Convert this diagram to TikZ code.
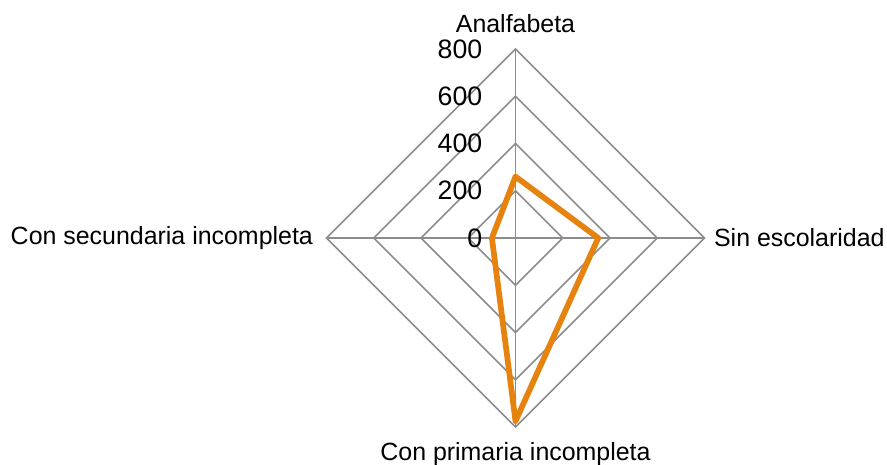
\documentclass[tikz,border=0pt]{standalone}
\usepackage{fontspec}
\setmainfont{Liberation Sans}
\usetikzlibrary{positioning}

\definecolor{gridgray}{HTML}{8C8C8C}
\definecolor{seriesorange}{HTML}{E6820E}

\begin{document}
\begin{tikzpicture}[x=0.75pt,y=0.75pt,
    grid/.style={draw=gridgray, line width=1.1pt},
    series/.style={draw=seriesorange, line width=4.3pt, line join=round},
    axislabel/.style={font=\fontsize{18.7}{21}\selectfont, inner sep=0pt},
    ticklabel/.style={font=\fontsize{20}{22}\selectfont, anchor=east, inner sep=0pt}]

    \useasboundingbox (-515.5,-226) rectangle (371.5,238);

    % axis ends
    \coordinate (top) at (0,189);
    \coordinate (right) at (189,0);
    \coordinate (bottom) at (0,-189);
    \coordinate (left) at (-189,0);

    % rings and spokes
    \foreach \r in {47.25,94.5,141.75,189}
        \draw[grid] (0,\r) -- (\r,0) -- (0,-\r) -- (-\r,0) -- cycle;
    \draw[grid] (top) -- (bottom);
    \draw[grid] (left) -- (right);

    % tick labels
    \foreach \v/\h in {0/0,200/47.25,400/94.5,600/141.75,800/189}
        \node[ticklabel] (tick\v) at (-33,\h) {\v};

    % axis labels
    \node[axislabel, above=12pt of top] (analf) {Analfabeta};
    \node[axislabel, right=7pt of right] (sinesc) {Sin escolaridad};
    \node[axislabel, below=11pt of bottom] (conprim) {Con primaria incompleta};
    \node[axislabel, left=10pt of left] (consec) {Con secundaria incompleta};

    % data
    \coordinate (vanalf) at (0,61.4);
    \coordinate (vsinesc) at (82.7,0);
    \coordinate (vconprim) at (0,-183.1);
    \coordinate (vconsec) at (-23.6,0);
    \draw[series] (vanalf) -- (vsinesc) -- (vconprim) -- (vconsec) -- cycle;

\end{tikzpicture}
\end{document}
